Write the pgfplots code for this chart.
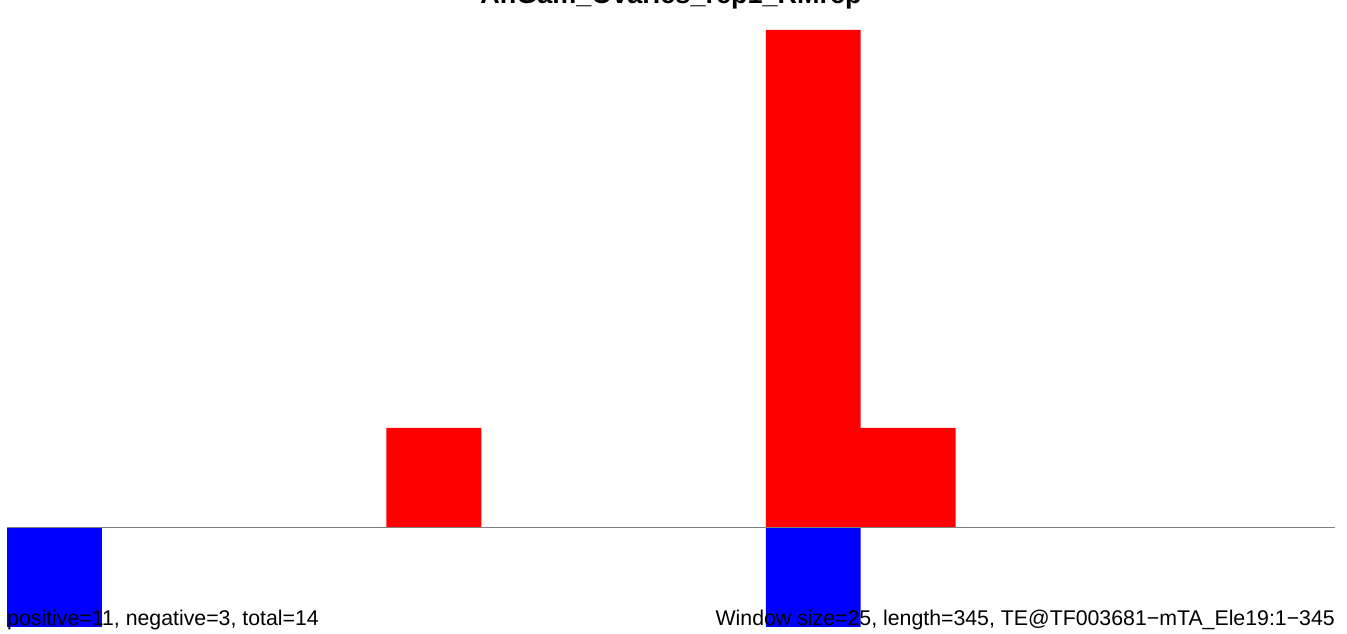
\documentclass[border=0pt]{standalone}
\usepackage{pgfplots}
\pgfplotsset{compat=1.18}
\usepackage{fontspec}
\setmainfont{Liberation Sans}
\begin{document}
\begin{tikzpicture}
\begin{axis}[
    scale only axis,
    width=1328pt, height=597pt,
    xmin=0, xmax=350,
    ymin=-1, ymax=5,
    axis lines=none,
    ybar, bar width=25, bar shift=0pt,
    clip=false,
]
  % positive windows
  \addplot[fill=red, draw=none] coordinates {(112.5,1) (212.5,5) (237.5,1)};
  % negative windows
  \addplot[fill=blue, draw=none] coordinates {(12.5,-1) (212.5,-1)};
  \addplot[sharp plot, gray, line width=1pt] coordinates {(0,0) (350,0)};
\end{axis}
\node[anchor=base, font=\fontsize{27}{31}\bfseries\selectfont] at (664pt,623pt) {AnGam\_Ovaries\_rep1\_RMrep};
\node[anchor=base west, inner sep=0pt, font=\fontsize{21.3}{25}\selectfont] at (0pt,1pt) {positive=11, negative=3, total=14};
\node[anchor=base east, inner sep=0pt, font=\fontsize{21.3}{25}\selectfont] at (1328pt,1pt) {Window size=25, length=345, TE@TF003681−mTA\_Ele19:1−345};
\pgfresetboundingbox
\useasboundingbox (-7pt,-7pt) rectangle (1340pt,627pt);
\end{tikzpicture}
\end{document}
